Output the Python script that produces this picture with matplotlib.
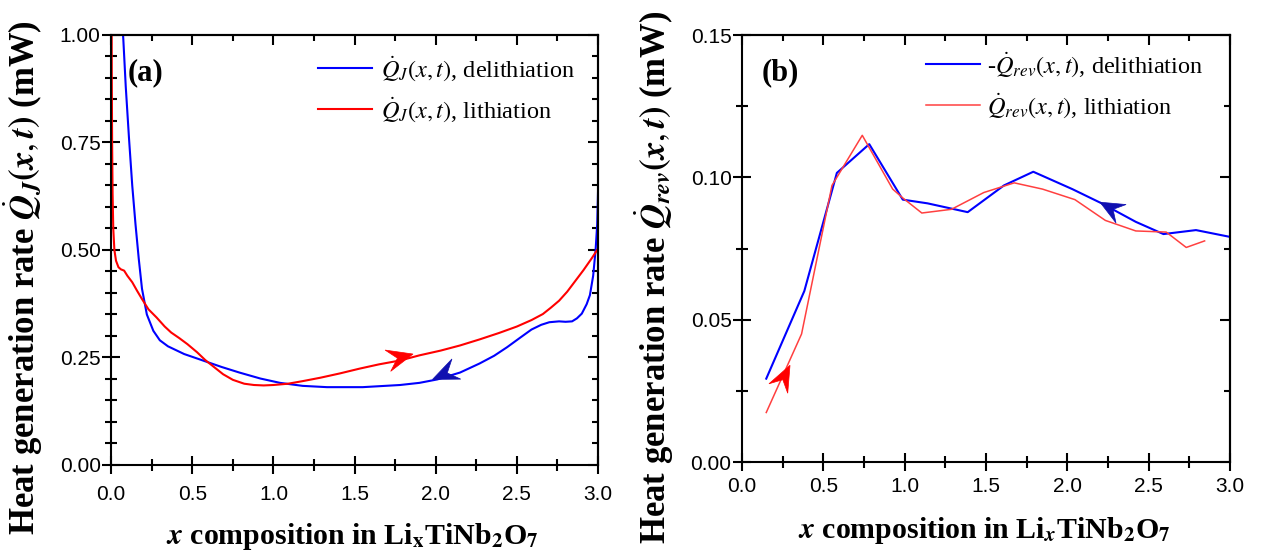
import numpy as np
import matplotlib
matplotlib.use('Agg')
import matplotlib.pyplot as plt
from matplotlib.patches import Polygon
from matplotlib.ticker import MultipleLocator, FormatStrFormatter
import matplotlib.transforms as mtransforms

plt.rcParams['mathtext.fontset'] = 'stix'
plt.rcParams['font.family'] = ['Liberation Serif', 'DejaVu Serif']

# --- (a) Joule heat ---
deli_x_a = [0.065, 0.075, 0.09, 0.11, 0.13, 0.15, 0.17, 0.19, 0.22, 0.26, 0.30, 0.35, 0.45,
            0.55, 0.68, 0.79, 0.92, 1.04, 1.18, 1.33, 1.55, 1.78, 1.90, 2.01, 2.15, 2.27,
            2.36, 2.44, 2.52, 2.59, 2.65, 2.70, 2.76, 2.80, 2.84, 2.87, 2.90, 2.93, 2.95,
            2.97, 2.985, 2.995, 3.0]
deli_y_a = [1.05, 0.99, 0.88, 0.76, 0.65, 0.56, 0.48, 0.41, 0.35, 0.312, 0.29, 0.276, 0.258,
            0.245, 0.228, 0.215, 0.201, 0.191, 0.184, 0.181, 0.181, 0.186, 0.191, 0.199,
            0.215, 0.236, 0.254, 0.274, 0.296, 0.315, 0.326, 0.332, 0.334, 0.333, 0.334,
            0.341, 0.352, 0.374, 0.395, 0.44, 0.50, 0.56, 0.636]
lith_x_a = [0.003, 0.004, 0.006, 0.009, 0.013, 0.02, 0.03, 0.045, 0.06, 0.08, 0.10, 0.13,
            0.16, 0.19, 0.23, 0.28, 0.33, 0.37, 0.42, 0.47, 0.53, 0.58, 0.64, 0.69, 0.75,
            0.82, 0.88, 0.94, 1.00, 1.09, 1.18, 1.29, 1.41, 1.53, 1.65, 1.78, 1.90, 2.03,
            2.15, 2.27, 2.39, 2.50, 2.59, 2.66, 2.71, 2.76, 2.81, 2.86, 2.91, 2.96, 3.0]
lith_y_a = [1.05, 0.9, 0.75, 0.63, 0.55, 0.5, 0.475, 0.46, 0.455, 0.452, 0.44, 0.425,
            0.405, 0.386, 0.362, 0.343, 0.322, 0.308, 0.295, 0.281, 0.262, 0.244, 0.226,
            0.211, 0.198, 0.189, 0.186, 0.185, 0.186, 0.189, 0.195, 0.203, 0.213, 0.224,
            0.234, 0.243, 0.255, 0.266, 0.278, 0.292, 0.307, 0.322, 0.337, 0.351, 0.366,
            0.382, 0.403, 0.428, 0.453, 0.48, 0.503]

# --- (b) reversible heat ---
deli_x_b = [0.149, 0.383, 0.583, 0.782, 0.988, 1.14, 1.387, 1.61, 1.79, 2.03, 2.21, 2.42,
            2.59, 2.79, 3.0]
deli_y_b = [0.0293, 0.0601, 0.1016, 0.1117, 0.0922, 0.0909, 0.0878, 0.0972, 0.102, 0.0959,
            0.0909, 0.0844, 0.0801, 0.0815, 0.0791]
lith_x_b = [0.149, 0.366, 0.553, 0.739, 0.926, 0.988, 1.105, 1.287, 1.486, 1.673, 1.847,
            2.046, 2.233, 2.42, 2.607, 2.73, 2.843]
lith_y_b = [0.0174, 0.045, 0.0972, 0.1148, 0.0959, 0.0928, 0.0875, 0.0888, 0.0947, 0.0981,
            0.0959, 0.0922, 0.0849, 0.0812, 0.0808, 0.0754, 0.0777]

BLUE = '#0000ff'
RED = '#ff0000'
RED_B = '#ff4040'

fig = plt.figure(figsize=(12.63, 5.58), dpi=100)
ax1 = fig.add_axes([0.088, 0.1667, 0.3855, 0.7706])
ax2 = fig.add_axes([0.5875, 0.172, 0.3865, 0.765])


def stealth(ax, tip, tail, color, L=26, W=22):
    # swept arrow head drawn in pixels, pointing from tail to tip
    p0 = ax.transData.transform(tip)
    p1 = ax.transData.transform(tail)
    ang = np.arctan2(p0[1] - p1[1], p0[0] - p1[0])
    pts = np.array([[0, 0], [-L, W / 2], [-0.62 * L, 0], [-L, -W / 2]]) / fig.dpi
    rot = mtransforms.Affine2D().rotate(ang)
    tr = rot + fig.dpi_scale_trans + mtransforms.ScaledTranslation(tip[0], tip[1], ax.transData)
    ax.add_patch(Polygon(pts, closed=True, transform=tr, facecolor=color,
                         edgecolor=color, lw=0.5, zorder=5, clip_on=False))


def style(ax, ymax, ymaj, ymin, yfmt, xpad):
    ax.set_xlim(0, 3.0)
    ax.set_ylim(0, ymax)
    ax.xaxis.set_major_locator(MultipleLocator(0.5))
    ax.xaxis.set_minor_locator(MultipleLocator(0.25))
    ax.yaxis.set_major_locator(MultipleLocator(ymaj))
    ax.yaxis.set_minor_locator(MultipleLocator(ymin))
    ax.xaxis.set_major_formatter(FormatStrFormatter('%.1f'))
    ax.yaxis.set_major_formatter(FormatStrFormatter(yfmt))
    for s in ax.spines.values():
        s.set_linewidth(1.5)
    ax.tick_params(which='both', direction='inout', width=1.5, top=False, right=False)
    ax.tick_params(which='major', length=13)
    ax.tick_params(which='minor', length=8)
    for lab in ax.get_xticklabels() + ax.get_yticklabels():
        lab.set_fontfamily('Liberation Sans')
        lab.set_fontsize(15)
    ax.tick_params(axis='x', pad=xpad)
    ax.tick_params(axis='y', pad=1)
    # inward ticks on top and right
    top = ax.secondary_xaxis('top')
    top.set_xticks(np.arange(0, 3.01, 0.5))
    top.xaxis.set_minor_locator(MultipleLocator(0.25))
    top.tick_params(which='both', direction='in', width=1.5, labeltop=False)
    top.tick_params(which='major', length=7)
    top.tick_params(which='minor', length=4)
    top.spines['top'].set_linewidth(1.5)
    right = ax.secondary_yaxis('right')
    right.yaxis.set_major_locator(MultipleLocator(ymaj))
    right.yaxis.set_minor_locator(MultipleLocator(ymin))
    right.tick_params(which='both', direction='in', width=1.5, labelright=False)
    right.tick_params(which='major', length=7)
    right.tick_params(which='minor', length=4)
    right.spines['right'].set_linewidth(1.5)


QJ_BOLD = r'$\dot{\mathbfit{Q}}_{\mathbfit{J}}\mathbf{(}\mathbfit{x},\mathbfit{t}\mathbf{)}$'
QREV_BOLD = r'$\dot{\mathbfit{Q}}_{\mathbfit{rev}}\mathbf{(}\mathbfit{x},\mathbfit{t}\mathbf{)}$'

# ---------- (a) ----------
ax1.plot(deli_x_a, deli_y_a, color=BLUE, lw=1.5,
         label=r'$\dot{Q}_J(x,t)$, delithiation')
ax1.plot(lith_x_a, lith_y_a, color=RED, lw=1.5,
         label=r'$\dot{Q}_J(x,t)$, lithiation')
style(ax1, 1.0, 0.25, 0.05, '%.2f', 8)
ax1.set_xlabel(r'$\mathbfit{x}$ composition in Li$_\mathbf{x}$TiNb$_\mathbf{2}$O$_\mathbf{7}$',
               fontsize=21.5, fontweight='bold')
ax1.set_ylabel('Heat generation rate ' + QJ_BOLD + ' (mW)',
               fontsize=25, fontweight='bold')
ax1.xaxis.set_label_coords(0.495, -0.13)
ax1.yaxis.set_label_coords(-0.135, 0.435)
ax1.text(0.033, 0.912, '(a)', transform=ax1.transAxes, fontsize=22,
         fontweight='bold', va='center', ha='left')
ax1.legend(loc='upper left', bbox_to_anchor=(0.425, 0.955), frameon=False,
           fontsize=17.5, handlelength=2.2, handletextpad=0.4, labelspacing=0.5,
           borderpad=0, borderaxespad=0)
stealth(ax1, (1.86, 0.258), (1.70, 0.242), RED)
stealth(ax1, (1.98, 0.199), (2.12, 0.222), '#1010b0')

# ---------- (b) ----------
ax2.plot(deli_x_b, deli_y_b, color=BLUE, lw=1.5,
         label=r'-$\dot{Q}_{rev}(x,t)$, delithiation')
ax2.plot(lith_x_b, lith_y_b, color=RED_B, lw=1.1,
         label=r'$\dot{Q}_{rev}(x,t)$, lithiation')
style(ax2, 0.15, 0.05, 0.025, '%.2f', 4)
ax2.set_xlabel(r'$\mathbfit{x}$ composition in Li$_\mathbfit{x}$TiNb$_\mathbf{2}$O$_\mathbf{7}$',
               fontsize=21.5, fontweight='bold')
ax2.set_ylabel('Heat generation rate ' + QREV_BOLD + ' (mW)',
               fontsize=25, fontweight='bold')
ax2.xaxis.set_label_coords(0.496, -0.125)
ax2.yaxis.set_label_coords(-0.135, 0.433)
ax2.text(0.041, 0.911, '(b)', transform=ax2.transAxes, fontsize=22,
         fontweight='bold', va='center', ha='left')
ax2.legend(loc='upper left', bbox_to_anchor=(0.377, 0.965), frameon=False,
           fontsize=17.5, handlelength=2.2, handletextpad=0.3, labelspacing=0.5,
           borderpad=0, borderaxespad=0)
stealth(ax2, (0.295, 0.034), (0.149, 0.0174), RED, L=26, W=21)
stealth(ax2, (2.20, 0.0913), (2.42, 0.0844), '#1010b0', L=24, W=21)

fig.savefig('out.png', dpi=100)
